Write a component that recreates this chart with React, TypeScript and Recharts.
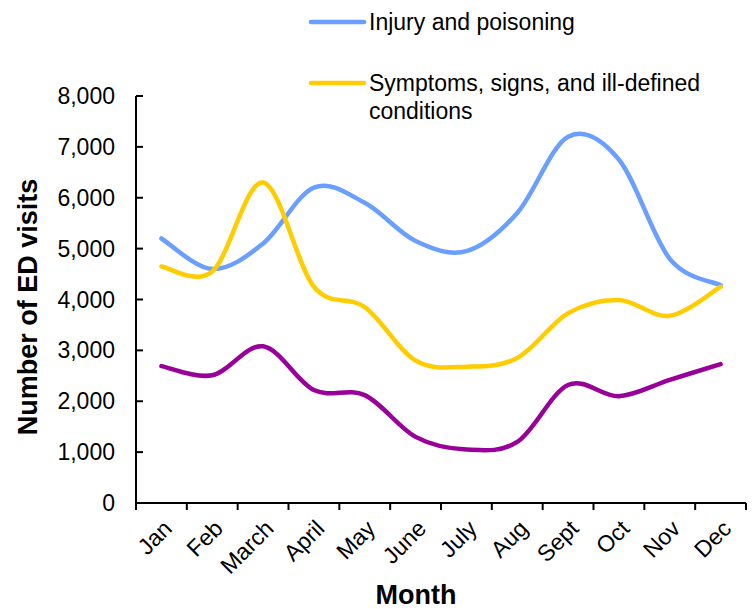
import React from 'react';
import { LineChart, Line, XAxis, YAxis, Legend } from 'recharts';

const months = ['Jan', 'Feb', 'March', 'April', 'May', 'June', 'July', 'Aug', 'Sept', 'Oct', 'Nov', 'Dec'];
const injury = [5200, 4600, 5100, 6200, 5900, 5150, 4950, 5700, 7200, 6750, 4800, 4280];
const symptoms = [4650, 4550, 6300, 4250, 3850, 2800, 2680, 2850, 3730, 3990, 3680, 4250];
const other = [2690, 2510, 3080, 2220, 2120, 1300, 1050, 1200, 2320, 2100, 2420, 2730];
const yTicks = [0, 1000, 2000, 3000, 4000, 5000, 6000, 7000, 8000];

const data = months.map((m, i) => ({
    month: m,
    injury: injury[i],
    symptoms: symptoms[i],
    other: other[i],
}));

const FONT = '"Liberation Sans", Arial, sans-serif';

// Excel-like smoothed line (Catmull-Rom through the points)
const excelSmooth = (context: any) => {
    let pts: number[][] = [];
    return {
        areaStart() {},
        areaEnd() {},
        lineStart() { pts = []; },
        point(x: number, y: number) { pts.push([+x, +y]); },
        lineEnd() {
            if (!pts.length) return;
            context.moveTo(pts[0][0], pts[0][1]);
            for (let i = 0; i < pts.length - 1; i++) {
                const p0 = pts[i - 1] || pts[i];
                const p1 = pts[i];
                const p2 = pts[i + 1];
                const p3 = pts[i + 2] || p2;
                context.bezierCurveTo(
                    p1[0] + (p2[0] - p0[0]) / 6, p1[1] + (p2[1] - p0[1]) / 6,
                    p2[0] - (p3[0] - p1[0]) / 6, p2[1] - (p3[1] - p1[1]) / 6,
                    p2[0], p2[1]
                );
            }
        },
    };
};

const wrap = (s: string, max: number) => {
    const lines: string[] = [];
    let cur = '';
    s.split(' ').forEach((w) => {
        const next = cur ? cur + ' ' + w : w;
        if (next.length > max && cur) {
            lines.push(cur);
            cur = w;
        } else cur = next;
    });
    if (cur) lines.push(cur);
    return lines;
};

const renderLegend = (props: any) => {
    const items = (props.payload || []).filter((p: any) => p.type !== 'none');
    return (
        <svg width={756} height={130} style={{ display: 'block' }}>
            {items.map((p: any, i: number) => {
                const y = 22 + i * 61;
                return (
                    <g key={p.value}>
                        <line x1={311} x2={364} y1={y} y2={y} stroke={p.color} strokeWidth={4.5} strokeLinecap="round" />
                        {wrap(p.value, 32).map((ln, j) => (
                            <text key={j} x={369} y={y + j * 28} dy="0.35em" fontSize={23} fill="#000" fontFamily={FONT}>{ln}</text>
                        ))}
                    </g>
                );
            })}
        </svg>
    );
};

const YTick = (props: any) => {
    const { x, y, payload } = props;
    return (
        <g>
            <path d={`M${x + 21},${y}h7`} stroke="#000" strokeWidth={2} fill="none" />
            <text x={x} y={y} dy="0.35em" textAnchor="end" fontSize={23} fill="#000" fontFamily={FONT}>
                {payload.value.toLocaleString('en-US')}
            </text>
        </g>
    );
};

const XTick = (props: any) => {
    const { x, y, payload, index } = props;
    const half = payload.offset || 25.4;
    const ax = x + 12;
    const ay = y + 19;
    return (
        <g>
            <path d={`M${x - half},${y - 8}v7`} stroke="#000" strokeWidth={2} fill="none" />
            {index === months.length - 1 && (
                <path d={`M${x + half},${y - 8}v7`} stroke="#000" strokeWidth={2} fill="none" />
            )}
            <text
                x={ax}
                y={ay}
                textAnchor="end"
                fontSize={23}
                fill="#000"
                fontFamily={FONT}
                transform={`rotate(-45, ${ax}, ${ay})`}
            >
                {payload.value}
            </text>
        </g>
    );
};

export default function App() {
    return (
        <div style={{ position: 'absolute', left: 0, top: 0, width: 756, height: 609, background: '#fff' }}>
            <LineChart
                width={756}
                height={609}
                data={data}
                margin={{ top: 96, right: 10, bottom: 46, left: 56 }}
                style={{ fontFamily: FONT }}
            >
                <XAxis
                    dataKey="month"
                    scale="band"
                    height={60}
                    interval={0}
                    tickLine={false}
                    tickSize={0}
                    tickMargin={8}
                    axisLine={{ stroke: '#000', strokeWidth: 2 }}
                    tick={<XTick />}
                    label={{
                        content: () => (
                            <text x={416} y={604} textAnchor="middle" fontSize={27} fontWeight="bold" fill="#000" fontFamily={FONT}>Month</text>
                        ),
                    }}
                />
                <YAxis
                    width={80}
                    domain={[0, 8000]}
                    ticks={yTicks}
                    interval={0}
                    tickLine={false}
                    tickSize={0}
                    tickMargin={21}
                    axisLine={{ stroke: '#000', strokeWidth: 2 }}
                    tick={<YTick />}
                    label={{
                        content: () => (
                            <text x={28} y={307} textAnchor="middle" dy="0.35em" fontSize={27} fontWeight="bold" fill="#000" fontFamily={FONT} transform="rotate(-90, 28, 307)">Number of ED visits</text>
                        ),
                    }}
                />
                <Legend
                    layout="horizontal"
                    verticalAlign="middle"
                    align="center"
                    wrapperStyle={{ top: 0, left: 0, width: 756, height: 130 }}
                    content={renderLegend}
                />
                <Line dataKey="injury" name="Injury and poisoning" type={excelSmooth as any} stroke="#6A9EFF" strokeWidth={4.5} strokeLinecap="round" dot={false} activeDot={false} isAnimationActive={false} />
                <Line dataKey="symptoms" name="Symptoms, signs, and ill-defined conditions" type={excelSmooth as any} stroke="#FFCC00" strokeWidth={4.5} strokeLinecap="round" dot={false} activeDot={false} isAnimationActive={false} />
                <Line dataKey="other" name="Other" legendType="none" type={excelSmooth as any} stroke="#990099" strokeWidth={4.5} strokeLinecap="round" dot={false} activeDot={false} isAnimationActive={false} />
            </LineChart>
        </div>
    );
}
